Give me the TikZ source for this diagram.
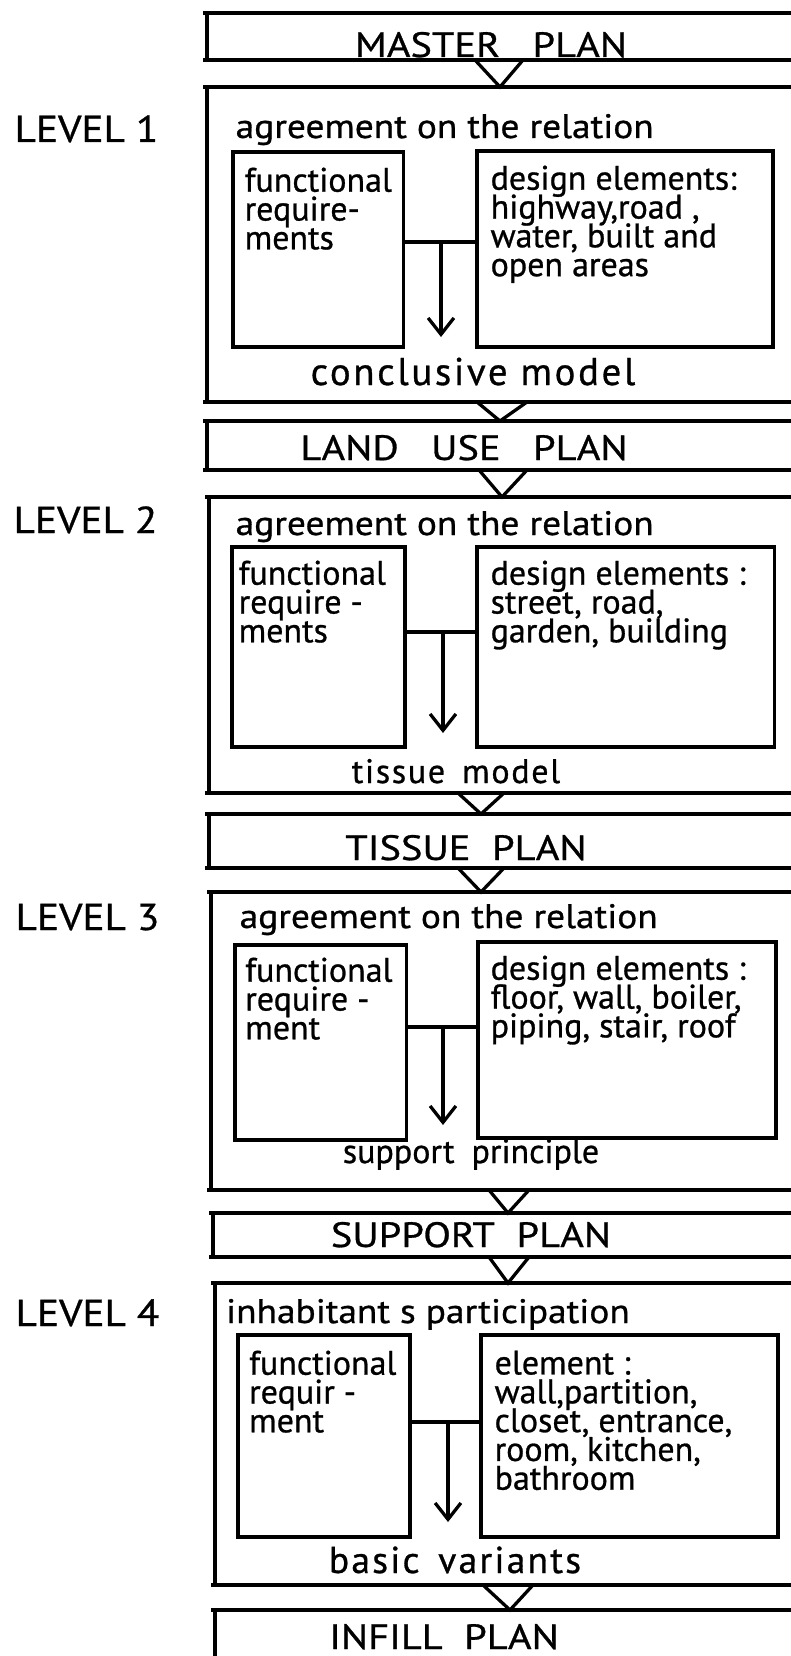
\documentclass[tikz,border=0pt]{standalone}
\usepackage{fontspec}
\setmainfont{PT Sans}[FakeBold=0.8]
\newfontfamily\widefont{PT Sans}[FakeBold=0.8, FakeStretch=1.15]
\newfontfamily\headfont{PT Sans}[FakeBold=0.8, FakeStretch=1.1]
\usetikzlibrary{arrows.meta,fit}
\setlength{\lineskiplimit}{-100pt}

\begin{document}
\begin{tikzpicture}[x=0.03cm, y=-0.03cm, line width=2.8pt,
    plan/.style={font=\widefont\fontsize{30}{30}\selectfont, anchor=base, inner sep=0pt},
    level/.style={font=\headfont\fontsize{32}{32}\selectfont, anchor=base west, inner sep=0pt},
    head/.style={font=\headfont\fontsize{29}{29}\selectfont, anchor=base west, inner sep=0pt},
    result/.style 2 args={font={\fontsize{#1}{#1}\selectfont\addfontfeature{LetterSpace=#2}},
        anchor=base, inner sep=0pt},
    field/.style={draw, inner sep=0pt},
    fieldtext/.style={font=\fontsize{29}{24.6}\selectfont, align=left, anchor=north west, inner sep=0pt},
    flow/.style={-{Straight Barb[length=14pt,width=22pt]}}]
    \useasboundingbox (0,0) rectangle (791,1656);

    % Draw frames, open to the right
    \draw (203,13) -- (791,13) (207,13) -- (207,60) (203,60) -- (791,60);
    \draw (203,87) -- (791,87) (207,87) -- (207,402) (203,402) -- (791,402);
    \draw (203,421) -- (791,421) (207,421) -- (207,470) (203,470) -- (791,470);
    \draw (205,497) -- (791,497) (209,497) -- (209,793) (205,793) -- (791,793);
    \draw (205,814) -- (791,814) (209,814) -- (209,868) (205,868) -- (791,868);
    \draw (207,892) -- (791,892) (211,892) -- (211,1190) (207,1190) -- (791,1190);
    \draw (209,1213) -- (791,1213) (213,1213) -- (213,1257) (209,1257) -- (791,1257);
    \draw (211,1283) -- (791,1283) (215,1283) -- (215,1585) (211,1585) -- (791,1585);
    \draw (211,1610) -- (791,1610) (215,1610) -- (215,1660);

    % Draw triangles between frames
    \draw (475,60) -- (500,87) -- (523,60);
    \draw (477,402) -- (500,421) -- (527,402);
    \draw (479,470) -- (502,497) -- (527,470);
    \draw (458,793) -- (481,814) -- (504,793);
    \draw (458,868) -- (481,892) -- (504,868);
    \draw (489,1190) -- (508,1213) -- (529,1190);
    \draw (489,1257) -- (508,1283) -- (529,1257);
    \draw (483,1585) -- (510,1610) -- (533,1585);

    % Plans
    \node[plan] (master) at (491,57) {MASTER\ \ \ PLAN};
    \node[plan] (landuse) at (464,460) {LAND\ \ \ USE\ \ \ PLAN};
    \node[plan] (tissue) at (466,860) {TISSUE\ \ PLAN};
    \node[plan] (support) at (471,1247) {SUPPORT\ \ PLAN};
    \node[plan] (infill) at (444,1649) {INFILL\ \ PLAN};

    % Levels
    \node[level] (lev1) at (13,142) {LEVEL\ 1};
    \node[level] (lev2) at (12,533) {LEVEL 2};
    \node[level] (lev3) at (14,930) {LEVEL 3};
    \node[level] (lev4) at (14,1326) {LEVEL 4};

    % Level 1
    \node[head] (agree1) at (234,138) {agreement on the relation};
    \node[field, fit={(233,152) (403.5,347)}] (req1) {};
    \node[field, fit={(477,151) (773,347)}] (elem1) {};
    \node[fieldtext] at (243,166) {functional\\require-\\ments};
    \node[fieldtext] at (489,164) {design elements:\\highway,road ,\\water, built and\\open areas};
    \coordinate (j1) at (441,242);
    \coordinate (a1) at (441,337);
    \draw (req1.east |- j1) -- (elem1.west |- j1);
    \draw[flow] (j1) -- (a1);
    \node[result={33}{7}] (model1) at (473,385) {conclusive model};

    % Level 2
    \node[head] (agree2) at (234,535) {agreement on the relation};
    \node[field, fit={(232,547) (405,747)}] (req2) {};
    \node[field, fit={(477,547) (774.5,747)}] (elem2) {};
    \node[fieldtext] at (237,559) {functional\\require -\\ments};
    \node[fieldtext] at (489,559) {design elements :\\street, road,\\garden, building};
    \coordinate (j2) at (443,632);
    \coordinate (a2) at (443,733);
    \draw (req2.east |- j2) -- (elem2.west |- j2);
    \draw[flow] (j2) -- (a2);
    \node[result={29}{5}] (model2) at (456,783) {tissue\enspace model};

    % Level 3
    \node[head] (agree3) at (238,928) {agreement on the relation};
    \node[field, fit={(235,945) (406.5,1140)}] (req3) {};
    \node[field, fit={(478,942) (776,1138)}] (elem3) {};
    \node[fieldtext] at (243.6,956) {functional\\require -\\ment};
    \node[fieldtext] at (489,954) {design elements :\\floor, wall, boiler,\\piping, stair, roof};
    \coordinate (j3) at (443,1027);
    \coordinate (a3) at (443,1125);
    \draw (req3.east |- j3) -- (elem3.west |- j3);
    \draw[flow] (j3) -- (a3);
    \node[result={29}{0}] (model3) at (471,1163) {support\enspace principle};

    % Level 4
    \node[head] (agree4) at (224.5,1323) {inhabitant s participation};
    \node[field, fit={(238,1335) (410,1537)}] (req4) {};
    \node[field, fit={(481,1335) (778,1537)}] (elem4) {};
    \node[fieldtext] at (247.5,1349) {functional\\requir -\\ment};
    \node[fieldtext] at (493,1349) {element :\\wall,partition,\\closet, entrance,\\room, kitchen,\\bathroom};
    \coordinate (j4) at (448,1422);
    \coordinate (a4) at (448,1522);
    \draw (req4.east |- j4) -- (elem4.west |- j4);
    \draw[flow] (j4) -- (a4);
    \node[result={32}{6}] (model4) at (455,1573) {basic\enspace variants};
\end{tikzpicture}
\end{document}
